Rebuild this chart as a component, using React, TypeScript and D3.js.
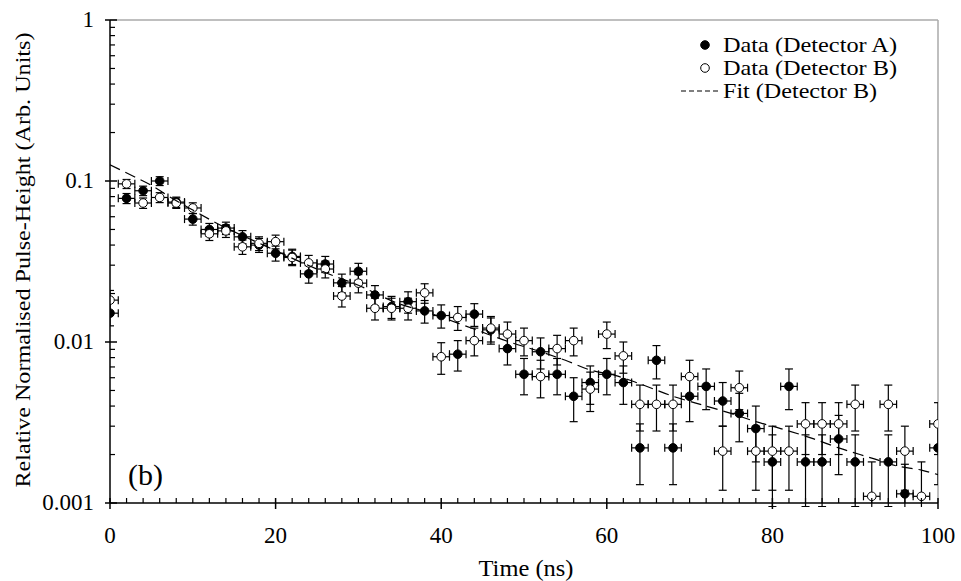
import { useMemo } from 'react';
import * as d3 from 'd3';

// time bins (ns)
const times = d3.range(0, 101, 2);

// Detector A (filled circles), null = no point
const valuesA = [
  0.0151, 0.078, 0.087, 0.1, 0.074, 0.058, 0.05, 0.051, 0.045, 0.04,
  0.0356, 0.034, 0.0265, 0.0305, 0.0233, 0.0275, 0.0196, 0.0166, 0.0178, 0.0156,
  0.0146, 0.0084, 0.0149, 0.0119, 0.0091, 0.0063, 0.0087, 0.0063, 0.0046, 0.0056,
  0.0063, 0.0056, 0.0022, 0.0077, 0.0022, 0.0046, 0.0053, 0.0043, 0.0036, 0.0029,
  0.0018, 0.0053, 0.0018, 0.0018, 0.0025, 0.0018, null, 0.0018, 0.00114, null,
  0.0022,
];
const errorsA = [
  0.0025, 0.0056, 0.0059, 0.0063, 0.0054, 0.0048, 0.0045, 0.0045, 0.0042, 0.004,
  0.0038, 0.0037, 0.0033, 0.0035, 0.0031, 0.0033, 0.0028, 0.0026, 0.0027, 0.0025,
  0.0024, 0.0018, 0.0024, 0.0022, 0.0019, 0.0016, 0.0019, 0.0016, 0.0014, 0.0015,
  0.0016, 0.0015, 0.0009, 0.0018, 0.0009, 0.0014, 0.0015, 0.0013, 0.0012, 0.0011,
  0.00085, 0.0015, 0.00085, 0.00085, 0.001, 0.00085, 0, 0.00085, 0.0006, 0,
  0.0009,
];

// Detector B (open circles)
const valuesB = [
  0.0182, 0.096, 0.073, 0.079, 0.073, 0.068, 0.047, 0.049, 0.039, 0.041,
  0.042, 0.0335, 0.031, 0.0284, 0.0193, 0.0232, 0.0162, 0.0162, 0.0162, 0.0202,
  0.0081, 0.0142, 0.0102, 0.0122, 0.0112, 0.0102, 0.0061, 0.0091, 0.0102, 0.0051,
  0.0112, 0.0082, 0.0041, 0.0041, 0.0041, 0.0061, null, 0.0021, 0.0052, 0.0021,
  0.0021, 0.0021, 0.0031, 0.0031, 0.0031, 0.0041, 0.0011, 0.0041, 0.0021, 0.0011,
  0.0031,
];
const errorsB = [
  0.0027, 0.0062, 0.0054, 0.0056, 0.0054, 0.0052, 0.0043, 0.0044, 0.004, 0.004,
  0.0041, 0.0037, 0.0035, 0.0034, 0.0028, 0.003, 0.0025, 0.0025, 0.0025, 0.0028,
  0.0018, 0.0024, 0.002, 0.0022, 0.0021, 0.002, 0.0016, 0.0019, 0.002, 0.0014,
  0.0021, 0.0018, 0.0013, 0.0013, 0.0013, 0.0016, 0, 0.0009, 0.0014, 0.0009,
  0.0009, 0.0009, 0.0011, 0.0011, 0.0011, 0.0013, 0.0007, 0.0013, 0.0009, 0.0007,
  0.0011,
];

// fit curve for detector B
const fitTimes = [0, 3, 5, 7, 10, 12.5, 19, 26, 30, 35, 38, 42, 45, 48, 52, 55, 58, 61, 64, 68, 72, 75, 78, 81, 85, 88, 92, 95, 98, 100];
const fitValues = [
  0.126, 0.106, 0.094, 0.081, 0.066, 0.056, 0.039, 0.027, 0.0225, 0.0172,
  0.0155, 0.0131, 0.0115, 0.0101, 0.0087, 0.0077, 0.0067, 0.0062, 0.0055, 0.0046,
  0.004, 0.0036, 0.0032, 0.0029, 0.0025, 0.0022, 0.0019, 0.0017, 0.0016, 0.0015,
];

const xTicks = [0, 20, 40, 60, 80, 100];
const yTicks = [1, 0.1, 0.01, 0.001];
const yTickLabels = ['1', '0.1', '0.01', '0.001'];

const legendLabels = ['Data (Detector A)', 'Data (Detector B)', 'Fit (Detector B)'];
const legendWidths = [174, 174, 154];

const W = 961;
const H = 581;
const margin = { top: 20, right: 23, bottom: 78, left: 110 };
const FONT = '"Liberation Serif", "Times New Roman", serif';

const App = () => {
  const innerW = W - margin.left - margin.right;
  const innerH = H - margin.top - margin.bottom;

  const x = d3.scaleLinear().domain([0, 100]).range([margin.left, margin.left + innerW]);
  const y = d3.scaleLog().domain([0.001, 1]).range([margin.top + innerH, margin.top]);

  const minorY = useMemo(() => {
    const out: number[] = [];
    [0.001, 0.01, 0.1].forEach(d => {
      for (let k = 2; k <= 9; k++) out.push(d * k);
    });
    return out;
  }, []);
  const minorX = d3.range(0, 101, 2).filter(t => t % 20 !== 0);

  const fitLine = d3.line<number>()
    .x((_, i) => x(fitTimes[i]))
    .y(d => y(d))
    .curve(d3.curveMonotoneX);

  const x0 = x(0);
  const x1 = x(100);
  const yb = y(0.001);
  const yt = y(1);

  const renderSeries = (vals: (number | null)[], errs: number[], filled: boolean, key: string) =>
    times.map((t, i) => {
      const v = vals[i];
      if (v == null) return null;
      const e = errs[i];
      const cx = x(t);
      const cy = y(v);
      const hiY = y(v + e);
      const lo = v - e;
      const loY = lo > 0 ? y(lo) : yb + 40;
      const xl = x(t - 1);
      const xr = x(t + 1);
      return (
        <g key={key + i}>
          <line x1={cx} x2={cx} y1={hiY} y2={loY} stroke="#000" strokeWidth={1.2} />
          <line x1={cx - 4} x2={cx + 4} y1={hiY} y2={hiY} stroke="#000" strokeWidth={1.2} />
          <line x1={cx - 4} x2={cx + 4} y1={loY} y2={loY} stroke="#000" strokeWidth={1.2} />
          <line x1={xl} x2={xr} y1={cy} y2={cy} stroke="#000" strokeWidth={1.2} />
          <line x1={xl} x2={xl} y1={cy - 4} y2={cy + 4} stroke="#000" strokeWidth={1.2} />
          <line x1={xr} x2={xr} y1={cy - 4} y2={cy + 4} stroke="#000" strokeWidth={1.2} />
          <circle cx={cx} cy={cy} r={4.3} fill={filled ? '#000' : '#fff'} stroke="#000" strokeWidth={1} />
        </g>
      );
    });

  return (
    <svg width={W} height={H} style={{ position: 'absolute', left: 0, top: 0, background: '#fff' }} fontFamily={FONT}>
      <defs>
        <clipPath id="plotClip">
          <rect x={x0} y={yt - 5} width={x1 - x0} height={yb - yt + 9} />
        </clipPath>
      </defs>

      {/* frame: grey top / right */}
      <line x1={x0} x2={x1} y1={yt} y2={yt} stroke="#aaa" strokeWidth={1.5} />
      <line x1={x1} x2={x1} y1={yt} y2={yb} stroke="#aaa" strokeWidth={1.5} />

      {/* data */}
      <g clipPath="url(#plotClip)">
        {renderSeries(valuesA, errorsA, true, 'a')}
        {renderSeries(valuesB, errorsB, false, 'b')}
        <path d={fitLine(fitValues) || ''} fill="none" stroke="#000" strokeWidth={1.2} strokeDasharray="11,6" />
      </g>

      {/* y axis */}
      <line x1={x0} x2={x0} y1={yt} y2={yb} stroke="#000" strokeWidth={1.5} />
      {yTicks.map((t, i) => (
        <g key={'yt' + t}>
          <line x1={x0 - 5} x2={x0 + 7} y1={y(t)} y2={y(t)} stroke="#000" strokeWidth={1.5} />
          <text x={94} y={y(t) + 7} textAnchor="end" fontSize={23}>{yTickLabels[i]}</text>
        </g>
      ))}
      {minorY.map(t => (
        <line key={'ym' + t} x1={x0} x2={x0 + 5} y1={y(t)} y2={y(t)} stroke="#000" strokeWidth={1.2} />
      ))}

      {/* x axis */}
      <line x1={x0} x2={x1} y1={yb} y2={yb} stroke="#000" strokeWidth={1.5} />
      {xTicks.map(t => (
        <g key={'xt' + t}>
          <line x1={x(t)} x2={x(t)} y1={yb - 5} y2={yb + 6} stroke="#000" strokeWidth={1.5} />
          <text x={x(t)} y={yb + 40} textAnchor="middle" fontSize={23}>{t}</text>
        </g>
      ))}
      {minorX.map(t => (
        <line key={'xm' + t} x1={x(t)} x2={x(t)} y1={yb} y2={yb - 5} stroke="#000" strokeWidth={1.2} />
      ))}

      {/* axis titles */}
      <text x={526} y={576} textAnchor="middle" fontSize={23} textLength={95} lengthAdjust="spacingAndGlyphs">Time (ns)</text>
      <text transform="translate(30,260) rotate(-90)" textAnchor="middle" fontSize={22}
        textLength={455} lengthAdjust="spacingAndGlyphs">
        Relative Normalised Pulse-Height (Arb. Units)
      </text>

      <text x={128} y={485} fontSize={30}>(b)</text>

      {/* legend */}
      <circle cx={705} cy={45} r={4.3} fill="#000" stroke="#000" />
      <circle cx={705} cy={68} r={4.3} fill="#fff" stroke="#000" />
      <line x1={681} x2={719} y1={91} y2={91} stroke="#000" strokeWidth={1.2} strokeDasharray="5,3" />
      {legendLabels.map((l, i) => (
        <text key={l} x={723} y={52 + i * 23} fontSize={21}
          textLength={legendWidths[i]} lengthAdjust="spacingAndGlyphs">{l}</text>
      ))}
    </svg>
  );
};

export default App;
